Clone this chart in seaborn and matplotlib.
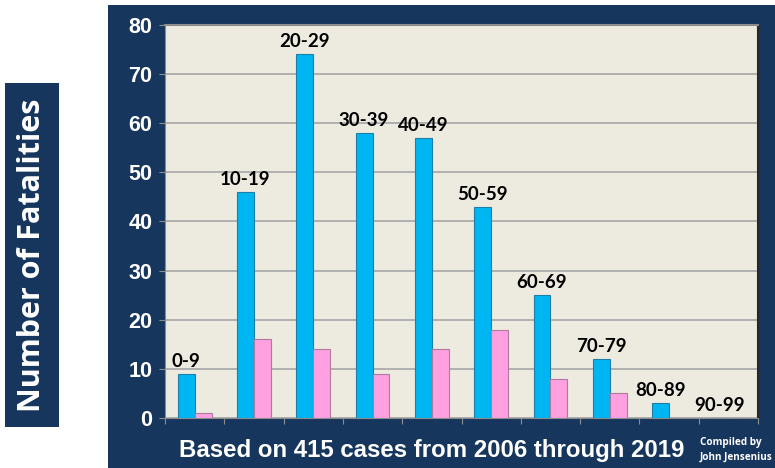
import pandas as pd
import numpy as np
import seaborn as sns
import matplotlib.pyplot as plt
from matplotlib.patches import Rectangle

# fatalities by age group
age_groups = ["0-9", "10-19", "20-29", "30-39", "40-49",
              "50-59", "60-69", "70-79", "80-89", "90-99"]
male = [9, 46, 74, 58, 57, 43, 25, 12, 3, 0]
female = [1, 16, 14, 9, 14, 18, 8, 5, 0, 0]
yticks = [0, 10, 20, 30, 40, 50, 60, 70, 80]

df = pd.DataFrame({
    "age": age_groups * 2,
    "fatalities": male + female,
    "sex": ["Male"] * len(male) + ["Female"] * len(female),
})

navy = "#17365D"
sns.set_style("white")
plt.rcParams['font.family'] = ['Liberation Sans', 'DejaVu Sans']

fig = plt.figure(figsize=(7.75, 4.68), dpi=100)
fig.patch.set_facecolor("white")

# navy panels
fig.add_artist(Rectangle((108 / 775, 0), 1 - 108 / 775, 463 / 468,
                         transform=fig.transFigure, facecolor=navy,
                         edgecolor="none", zorder=-5))
fig.add_artist(Rectangle((5 / 775, (468 - 427) / 468), 54 / 775, 344 / 468,
                         transform=fig.transFigure, facecolor=navy,
                         edgecolor="none", zorder=-5))

ax = fig.add_axes([165 / 775, 50 / 468, 593 / 775, 393 / 468])
ax.set_zorder(2)
ax.set_facecolor("#EDEAE0")

sns.barplot(data=df, x="age", y="fatalities", hue="sex",
            hue_order=["Male", "Female"], order=age_groups,
            palette=["#00B6F2", "#FFA0E0"], saturation=1, width=0.57, gap=0,
            linewidth=0.8, legend=False, ax=ax, zorder=3)
for p in ax.containers[0]:
    p.set_edgecolor("#1C7FA8")
for p in ax.containers[1]:
    p.set_edgecolor("#B07A9E")

ax.set_ylim(0, 80)
ax.set_xlim(-0.5, len(age_groups) - 0.5)
ax.set_yticks(yticks)
ax.set_yticklabels([str(t) for t in yticks], color="white",
                   fontweight="bold", fontsize=15.5)
ax.set_xticks(np.arange(-0.5, len(age_groups), 1.0))
ax.set_xticklabels([])
ax.tick_params(axis="y", length=4, color="#8C8C8C", pad=5, left=True)
ax.tick_params(axis="x", length=4, color="#8C8C8C", bottom=True)
ax.yaxis.grid(True, color="#A6A6A6", linewidth=1.2, zorder=0)
ax.set_axisbelow(True)
ax.set_xlabel(None)
ax.set_ylabel(None)
ax.spines["top"].set_color("#8C8C8C")
ax.spines["top"].set_linewidth(1.5)
ax.spines["right"].set_color("#262626")
ax.spines["right"].set_linewidth(1.5)
for s in ["left", "bottom"]:
    ax.spines[s].set_color("#8C8C8C")

# age group labels over the blue bars
for p, lab in zip(ax.containers[0], age_groups):
    ax.annotate(lab, (p.get_x() + p.get_width() / 2, p.get_height()),
                xytext=(0, 3), textcoords="offset points",
                ha="center", va="bottom", fontsize=13.5, fontweight="bold",
                family=["Lato", "DejaVu Sans"], color="black", zorder=5)

fig.text(32 / 775, 0.5 - (255 - 234) / 468, "Number of Fatalities", rotation=90,
         ha="center", va="center", color="white", fontsize=22,
         fontweight="bold", family=["Open Sans", "DejaVu Sans"])
fig.text(432 / 775, 18 / 468, "Based on 415 cases from 2006 through 2019",
         ha="center", va="center", color="white", fontsize=17.3, fontweight="bold")
fig.text(700 / 775, 18 / 468, "Compiled by\nJohn Jensenius", ha="left",
         va="center", color="white", fontsize=7.2, fontweight="bold",
         family=["Open Sans", "DejaVu Sans"], linespacing=1.4)

plt.savefig("out.png", dpi=100)
